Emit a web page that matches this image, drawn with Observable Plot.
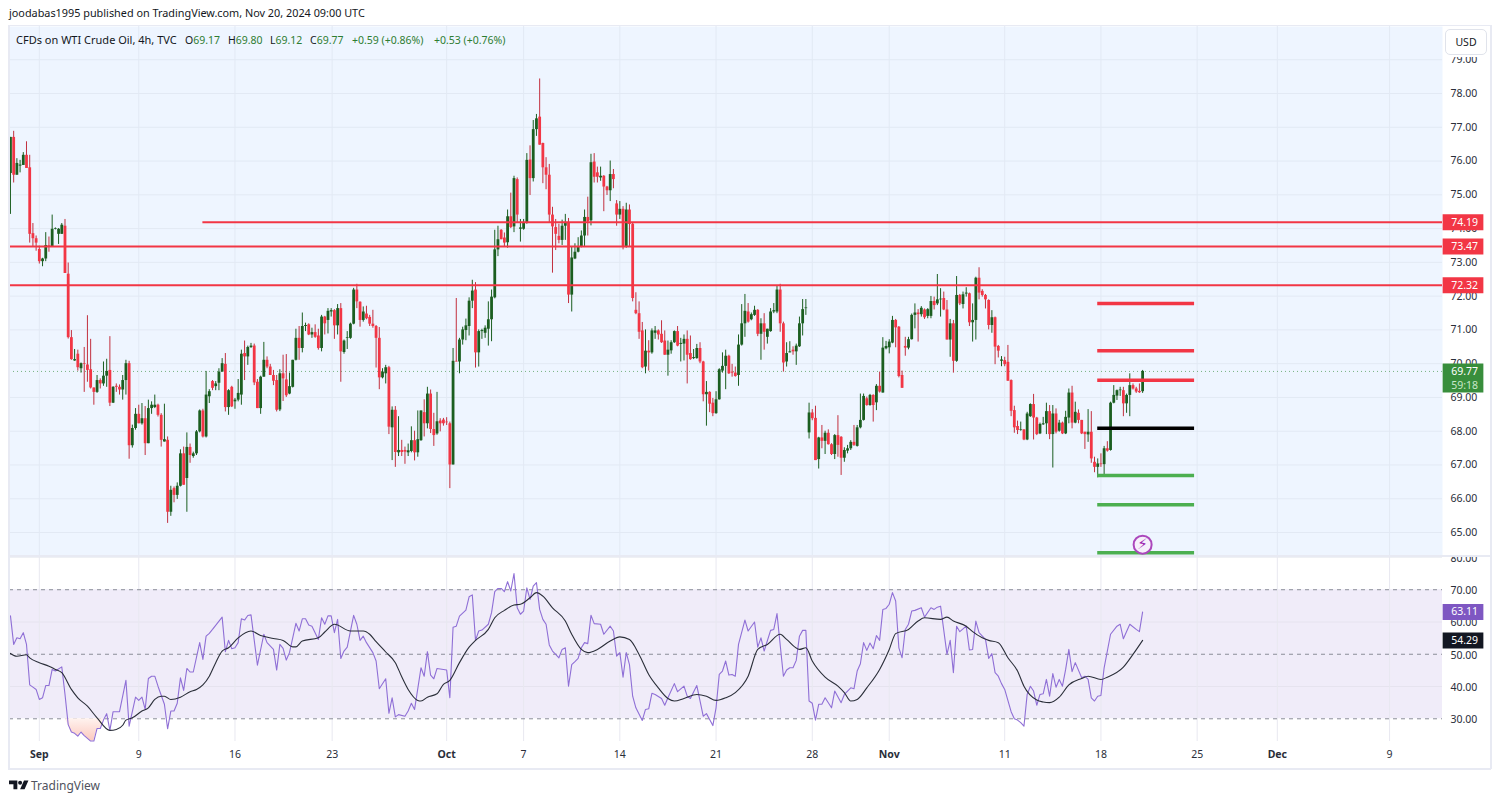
<!DOCTYPE html>
<html>
<head>
<meta charset="utf-8">
<script src="https://cdn.jsdelivr.net/npm/d3@7"></script>
<script src="https://cdn.jsdelivr.net/npm/@observablehq/plot@0.6"></script>
<style>
html,body{margin:0;padding:0;background:#fff;}
#page{position:relative;width:1500px;height:802px;overflow:hidden;font-family:"Noto Sans",sans-serif;color:#131722;}
#page svg.plot,#page>svg{position:absolute;left:0;}
.t{position:absolute;white-space:nowrap;font-size:10.5px;line-height:14px;}
.g{color:#2e7d32;}
.line{position:absolute;background:#e8eaf3;}
</style>
</head>
<body>
<div id="page">
<div class="line" style="left:8px;top:25px;width:1483px;height:1px"></div>
<div class="line" style="left:8px;top:25px;width:2px;height:744px"></div>
<div class="line" style="left:1490px;top:25px;width:2px;height:744px"></div>
<div class="line" style="left:8px;top:768px;width:1483px;height:2px"></div>
<div class="line" style="left:8px;top:555px;width:1483px;height:2px"></div>
<div id="top"></div>
<div id="bottom"></div>
<div class="t" style="left:9px;top:6px;width:370px;font-size:10.85px">joodabas1995 published on TradingView.com, Nov 20, 2024 09:00 UTC</div>
<div class="t" style="left:16px;top:33px;font-size:11px">CFDs on WTI Crude Oil, 4h, TVC</div>
<div class="t" style="left:185px;top:33px">O<span class="g">69.17</span></div>
<div class="t" style="left:228px;top:33px">H<span class="g">69.80</span></div>
<div class="t" style="left:270px;top:33px">L<span class="g">69.12</span></div>
<div class="t" style="left:310px;top:33px">C<span class="g">69.77</span></div>
<div class="t g" style="left:352px;top:33px">+0.59 (+0.86%)</div>
<div class="t g" style="left:434px;top:33px">+0.53 (+0.76%)</div>
<div style="position:absolute;left:1443px;top:26px;width:47px;height:31px;background:#fff;z-index:2"></div>
<div style="position:absolute;left:1445px;top:29px;width:40px;height:24px;background:#fff;border:1px solid #e0e3eb;border-radius:5px;text-align:center;font-size:10.5px;line-height:24px;z-index:3">USD</div>
<svg width="20" height="12" viewBox="0 0 36 20" style="position:absolute;left:9px;top:780px"><path fill="#131722" d="M0 0h15v16H8V7H0zM20 16l7-16h8l-7 16z"/><circle cx="20" cy="4" r="3.6" fill="#131722"/></svg>
<div class="t" style="left:31px;top:778px;font-size:12px;line-height:15px;color:#50535e">TradingView</div>
</div>
<script>
const opens=[75.63,76.7,75.58,75.85,75.87,76.17,75.8,73.85,73.7,73.38,
73.02,73.1,73.5,73.44,73.98,73.83,73.83,74.07,72.65,70.77,
70.08,70.28,69.85,70,69.96,69.82,69.28,69.15,69.5,69.4,
69.63,69.8,68.83,69.33,69.3,69.22,69.5,70,67.57,68.08,
68.5,68.22,68.37,67.63,68.67,68.7,68.77,68.47,67.68,67.73,
65.6,66.3,66.1,66.37,67.33,66.6,67.52,67.25,67.33,67.98,
68.6,67.83,69.02,69.47,69.32,69.42,69.75,69.98,68.7,69.3,
68.87,68.92,69.07,70.3,70.2,70.48,70.52,69.45,68.67,69.6,
70.1,69.9,69.65,69.5,68.63,69.7,69.52,69.1,69.3,70.1,
70.75,70.45,71.1,71.15,70.85,70.92,70.82,70.45,71.38,71.28,
71.53,71.57,71.12,71.63,70.33,70.75,70.75,71.17,72.18,71.82,
71.28,71.47,71.37,71.17,71.1,70.75,69.58,69.7,69.88,68.1,
68.62,67.36,67.43,67.43,67.36,67.4,67.72,67.36,67.72,68.55,
68.22,69.1,68.05,67.92,68.3,68.33,68.27,68.22,67,70.07,
70.05,70.7,70.98,71.1,71.85,72.18,70.32,70.95,70.9,71.02,
71.3,71.95,73.37,73.95,73.72,73.58,74.35,74.05,75.45,73.98,
73.98,74.15,76.03,75.48,76.93,77.3,76.52,75.8,75.58,74.4,
74.03,73.77,73.65,74.07,74.18,72.03,73.1,73.3,73.45,73.78,
74.33,74.23,75.97,75.65,75.5,75.55,75.23,75.12,75.6,74.73,
74.4,74.57,73.47,74.55,74.13,71.58,71.48,70.97,69.9,70.37,
70.32,70.9,70.97,70.87,70.67,70.25,70.38,70.62,70.95,70.57,
70.58,70.72,70.3,70.15,70.15,70.45,70.05,69.08,69.15,68.83,
68.52,68.93,69.78,69.92,70.22,69.75,69.72,69.65,70.55,71.18,
71.53,71.3,71.43,71.58,70.87,71.18,70.78,70.95,71.53,71.53,
72.18,71.18,70.05,70.32,70.4,70.35,70.5,71.18,71.63,
67.95,68.54,68.38,67.16,67.8,67.7,67.94,67.6,67.31,67.87,
67.82,67.2,67.41,67.48,67.67,67.55,68.1,68.32,68.96,68.76,
69.06,68.84,69.33,69.13,70.44,70.47,70.61,71.28,71.08,69.65,
70.51,70.46,70.71,71.43,71.5,71.45,71.59,71.4,71.4,71.84,
71.77,71.89,71.93,71.59,70.7,71.18,70.07,72.02,71.75,72.06,
72.07,71.21,71.28,72.53,72.14,72.02,71.87,71.13,71.36,70.51,
70.07,70.09,70.04,69.5,68.61,68.14,68.02,68.04,67.74,68.43,
68.79,68.39,67.92,68.19,68.22,68.58,67.9,68.51,68,68.24,
67.92,68.39,69.13,68.24,68.53,68.32,67.97,67.89,67.97,67.08,
66.93,67.03,67.01,67.48,67.43,68.83,69.04,69.2,69.2,68.81,
69.06,69.35,69.25,69.18,69.17];
const highs=[76.7,76.88,76.07,76.02,76.25,76.57,76.17,74.15,73.78,73.48,
73.12,73.88,73.75,74.4,74.02,74,74.15,74.27,72.98,70.98,
70.42,70.4,70.02,70.48,71.42,70.72,69.28,69.65,69.55,70.05,
70.13,70.8,69.32,69.4,69.37,69.65,70.1,70.07,68.18,68.67,
68.77,68.82,68.73,68.92,68.87,69.07,68.8,68.52,68.8,67.83,
66.37,66.35,66.47,67.45,67.53,67.95,67.62,67.38,68.02,68.63,
68.65,69.77,69.23,69.5,69.47,69.85,70.15,70.3,69.23,69.33,
68.97,69.53,70.4,70.67,70.52,70.6,70.58,69.53,69.63,70.63,
70.2,69.98,69.8,69.65,69.82,70.25,70.27,69.72,70.1,71.02,
71.1,71.5,71.2,71.18,71.05,71.15,71.02,71.43,71.4,71.63,
71.63,71.6,71.75,71.78,70.7,70.95,71.2,72.23,72.35,71.83,
71.68,71.7,71.43,71.58,71.13,71.07,69.85,69.95,69.92,68.72,
68.73,68.43,67.73,67.53,67.62,68.13,68,68.6,68.6,68.93,
69.3,69.22,68.53,69.15,68.37,68.38,68.4,68.27,70.45,71.93,
70.75,71.08,71.32,71.95,72.47,72.4,71,71.02,71.12,71.83,
72.18,73.95,74.07,73.97,73.87,74.55,75.05,75.55,75.5,74.27,
74.27,76.22,76.45,77.2,77.38,78.43,76.53,76.1,75.9,74.63,
74.27,74.13,74.25,74.42,74.3,73.47,73.55,73.73,73.93,74.55,
74.93,76.2,76.22,75.82,75.82,75.57,75.25,76,75.75,74.83,
74.8,74.65,74.75,74.7,74.17,72.1,71.83,71.22,71,70.68,
71.03,71.1,71,71.27,70.97,70.67,70.68,70.97,71.1,70.75,
70.85,70.97,70.82,70.42,70.57,70.62,70.07,69.47,69.17,68.97,
69.17,69.85,70.32,70.4,70.25,69.98,69.9,70.85,71.75,72.05,
71.78,71.5,71.7,71.6,71.33,71.48,71.02,71.63,71.78,72.3,
72.35,71.23,70.62,70.65,70.5,70.58,71.38,71.9,71.9,
68.83,68.64,68.74,67.82,68.17,68,68.04,67.63,67.9,68.46,
67.84,67.51,67.58,67.72,68.17,68.17,69.1,69.1,69.01,69.09,
69.08,69.38,69.75,70.77,70.66,70.71,71.4,71.31,71.1,69.78,
70.78,70.78,71.47,71.77,71.6,71.69,71.62,71.63,71.99,71.97,
72.64,72.22,72.12,71.87,71.31,71.28,72.58,72.05,72.12,72.25,
72.09,71.77,72.56,72.84,72.19,72.05,71.89,71.57,71.38,70.54,
70.21,70.19,70.54,69.52,68.74,68.3,68.27,68.04,68.56,68.81,
69.09,68.41,68.24,68.41,68.83,68.76,68.76,68.66,68.32,68.27,
68.59,69.25,69.33,68.86,68.63,68.32,67.97,68.64,68.58,67.23,
67.18,67.33,67.55,67.69,68.86,69.35,69.22,69.3,69.3,69.1,
69.7,69.4,69.3,69.4,69.8];
const lows=[74.42,75.35,75.58,75.65,75.87,75.78,73.57,73.45,73.33,72.95,
72.87,73.02,73.3,73.44,73.96,73.53,73.83,72.67,70.73,70.1,
70.07,69.78,69.72,69.15,69.45,69.25,68.77,69.12,69.25,69.33,
69.3,68.73,68.82,69.15,69.07,68.92,69.07,67.17,67.5,68.03,
68.22,68.18,67.28,67.63,68.5,68.67,68.42,67.53,67.68,65.27,
65.48,65.88,65.98,66.35,66.4,65.6,67.05,67.2,67.28,67.95,
67.8,67.8,68.82,69.2,69.2,69.2,69.75,68.57,68.47,68.7,
68.65,68.87,68.77,69.5,69.95,70.45,69.35,68.67,68.5,69.6,
69.85,69.65,69.35,68.57,68.58,68.88,69,69.08,69.28,70.08,
70.1,70.32,70.95,70.83,70.75,70.75,70.4,70.35,70.85,70.88,
71.38,70.72,70.85,69.45,70.28,70.42,70.72,71.15,71.63,71.08,
71.23,71.3,71.1,71.05,69.87,69.23,69.55,69.4,67.9,67.13,
66.93,67.25,67.25,67.02,67.25,67.36,67.12,67.23,67.7,67.83,
68.07,67.93,67.55,67.88,67.98,68.15,68.17,66.3,67,70.05,
69.7,70.55,70.68,70.82,71.63,69.87,69.9,70.72,70.75,70.52,
70.65,71.92,73.17,73.67,73.45,73.42,74,73.88,74.15,73.6,
73.95,74.13,74.98,75.38,76.73,76.47,75.33,75.15,74.17,72.68,
73.35,73.55,73.5,73.65,71.78,71.53,73.08,73.28,73.43,73.47,
73.78,74.08,75.35,75.35,75.4,74.5,74.98,74.8,75.18,74.07,
74.27,73.37,73.42,73.47,71.83,71.45,70.72,69.85,69.7,69.78,
70.28,70.72,70.7,70.6,70.25,69.63,70.28,70.6,70.5,70.05,
70.08,69.4,70.1,70.12,70.13,70,68.87,68.15,68.55,68.43,
68.5,68.92,69.72,69.23,69.68,69.6,69.6,69.33,70.52,70.78,
71.2,71.27,71.4,70.8,70.1,70.4,70.58,70.93,71.48,71.48,
70.93,69.75,69.9,70.32,70.25,69.95,70.48,70.82,71.43,
67.77,68.31,67.13,66.88,67.48,67.31,67.59,67.28,67.16,67.23,
66.69,67.08,67.33,67.43,67.55,67.53,68.07,68.3,68.74,68.74,
68.27,68.61,69.13,69.13,70.41,70.29,70.59,70.47,69.58,69.27,
70.22,70.41,70.7,71.03,70.64,71.38,71.31,71.33,71.33,71.59,
71.72,71.38,71.57,70.7,70.19,69.72,70.04,71.72,71.62,71.97,
71.1,70.64,70.7,71.89,71.97,71.62,71,70.9,69.97,70.17,
69.91,69.91,69.48,68.43,67.94,67.9,68,67.72,67.72,68.41,
67.74,67.87,67.9,68.17,67.9,67.75,66.91,67.92,67.97,67.9,
67.9,68.22,68.07,68.22,68.22,67.9,67.46,67.67,67.05,66.77,
66.62,66.93,66.66,67.38,67.41,68.81,68.91,69.03,68.43,68.53,
68.43,69.22,69.12,69.12,69.12];
const closes=[76.7,75.58,75.93,75.88,76.17,75.78,73.83,73.7,73.57,73.02,
73.1,73.5,73.48,73.98,74,73.98,74.1,72.67,70.77,70.12,
70.12,69.88,70,69.98,69.8,69.28,69.15,69.5,69.4,69.63,
69.77,68.83,69.3,69.3,69.22,69.5,70,67.57,68.08,68.5,
68.22,68.37,67.63,68.67,68.77,68.77,68.47,67.73,67.75,65.6,
66.25,66.1,66.37,67.33,66.4,67.52,67.28,67.33,67.98,68.6,
67.83,69.07,69.17,69.27,69.4,69.75,70,68.7,69.2,68.72,
68.92,69.12,70.28,70.2,70.48,70.52,69.43,68.67,69.6,70.1,
69.9,69.65,69.48,68.62,69.7,69.55,69.05,69.32,70.1,70.75,
70.45,71.1,71.13,70.85,70.92,70.78,70.45,71.38,71.18,71.55,
71.57,71.12,71.63,70.35,70.67,70.77,71.17,72.18,71.83,71.28,
71.53,71.33,71.17,71.1,70.75,69.58,69.75,69.88,68.12,68.62,
67.37,67.43,67.37,67.38,67.42,67.72,67.36,67.75,68.6,68.22,
69.1,68.05,67.87,68.28,68.22,68.22,68.25,67,70.07,70.05,
70.7,71,71.12,71.85,72.15,70.32,70.95,70.98,71.05,71.3,
71.97,73.37,73.67,73.67,73.57,74.35,74.03,75.48,74.4,74.02,
74.15,76.02,75.48,76.93,77.25,76.47,75.8,75.58,74.4,74.05,
73.83,73.65,74.07,74.18,72.03,73.13,73.3,73.47,73.78,74.33,
74.2,75.95,75.52,75.52,75.55,75.23,75.12,75.6,75.45,74.4,
74.57,73.47,74.55,74.12,71.93,71.48,70.93,69.88,70.37,70.32,
70.97,70.97,70.85,70.62,70.25,70.4,70.62,70.95,70.52,70.6,
70.72,70.25,70.12,70.18,70.45,70.05,69.08,69.15,68.8,68.52,
68.93,69.82,69.92,70.22,69.7,69.72,69.62,70.55,71.18,71.55,
71.23,71.45,71.58,70.87,71.18,70.93,71.02,71.53,71.57,72.18,
71.18,70.02,70.3,70.35,70.35,70.52,71.18,71.6,71.65,
68.54,68.37,67.13,67.8,67.7,67.94,67.6,67.31,67.87,67.58,
67.2,67.43,67.48,67.67,67.58,68.1,68.32,69.03,68.76,69.06,
68.76,69.33,69.16,70.46,70.51,70.64,71.28,71.06,69.62,69.27,
70.46,70.71,71.43,71.5,71.45,71.64,71.36,71.6,71.84,71.72,
71.89,71.91,71.59,70.7,71.18,70.07,72.02,71.77,72.04,72.09,
71.21,71.28,72.53,72.09,72.02,71.89,71.13,71.36,70.49,70.37,
70.11,69.97,69.48,68.59,68.1,68.02,68.04,67.74,68.51,68.79,
68.39,67.9,68.2,68.22,68.58,67.9,68.51,67.97,68.24,67.92,
68.41,69.13,68.24,68.56,68.32,67.92,67.9,67.97,67.18,66.93,
67.03,67.01,67.48,67.41,68.83,69.06,69.2,69.22,68.81,69.06,
69.35,69.25,69.16,69.14,69.77];

const rsiBar=[0,1,2,3,4,5,6,7,8,9,10,11,12,13,14,16,17,18,19,20,21,22,23,25,26,27,28,29,30,31,32,34,36,37,39,40,41,42,43,44,45,46,48,49,50,51,52,53,54,55,56,57,59,60,61,62,63,66,67,68,69,70,71,72,73,74,75,77,79,80,82,83,84,85,86,87,89,90,91,92,93,94,96,97,98,99,100,101,102,103,104,105,107,108,109,110,111,113,114,115,117,118,119,120,121,
123,124,125,126,128,129,130,131,132,133,136,137,138,139,140,142,143,144,145,146,147,149,150,151,152,153,154,155,156,157,158,159,160,161,162,163,164,165,166,167,168,169,170,171,172,173,174,175,176,177,178,179,180,181,182,184,185,187,188,189,190,191,192,193,194,195,197,198,199,200,201,203,204,205,207,208,210,211,212,214,216,217,218,219,220,221,222,223,224,225,226,227,229,230,232,233,234,235,237,238,239,241,242,243,244,245,246,
247,248,249,250,251,252,253,254,256,257,259,260,262,263,264,265,266,267,268,269,270,271,272,273,274,275,276,277,278,279,280,281,282,284,285,287,288,289,290,292,293,294,295,296,298,299,300,301,302,304,305,306,307,308,309,310,312,313,314,315,316,317,318,319,320,321,322,323,324,325,326,327,328,329,330,331,332,334,335,336,337,338,339,340,341,343,345,346,347,349,351,352,353];
const rsiValue=[61.9,53.05,55.1,54.8,56.7,53.05,40.5,39.8,39.1,36,36.5,40.3,40.3,45.3,44.8,46.1,37.6,28.2,25.9,25.5,24.6,25.9,24.8,23.1,23.1,27,27,29.6,31.6,26.4,32.2,32.2,41.9,27.7,36.7,35.7,36.7,32.9,42.5,43.2,43.2,40.1,34.5,26.9,32.4,32.4,34.8,42.7,38.8,45.6,44.5,44.5,53.6,48.4,55.6,56.5,57.7,61.5,50.8,54.3,51.7,52,53.6,61,60.6,62,62.2,46.6,56.2,53.6,51.5,45.1,53.05,51.8,48.2,50.5,59.6,57.2,61,61,59.05,58.7,54.6,61.3,59.3,61.9,61.9,56.7,60.8,48.7,51,52.2,62.05,59.3,54.3,55.6,53.6,50.5,47.9,39.3,42.4,31.7,36.5,30.6,31.3,
30.8,32.4,34.8,32.9,45.8,43.2,50.8,43.5,42.4,45.6,45.1,36.5,58.4,58.7,61.8,63.7,67.8,68.4,54.3,57.2,57.5,59.3,62.9,69.4,70.4,70.4,69.4,72.5,69.6,75,64.4,62.4,63.4,70.6,67,71.1,72.2,63.9,60.8,59.3,52.9,51,49.95,48.9,51.5,52,40.1,46.8,47.7,48.7,52,53.6,53.3,62.1,59.5,59.3,56.2,58.7,57.2,49.4,50.5,42.9,50.5,46.8,37,33.4,29.5,32.9,33.1,37.9,37.55,36.3,34.2,36.5,40.9,38.4,40.1,37,36.3,40.3,30.8,31.6,29.8,27.9,33.4,43.75,44.8,47.9,43.55,43.75,43.2,53.05,60.6,57.2,60,52.2,55.1,51,57.4,57.7,62.6,43.2,45.1,45.8,45.8,48.1,55.6,
57.4,57.4,35.5,34.8,29.6,34.5,34.5,36.5,33.4,38.6,35,37.55,39.6,39.3,44.8,47.06,53.6,51.2,53.5,51.7,55.8,54.3,63.9,64.2,65.5,69.1,66.5,52,48.9,57.7,59.3,63.4,63.6,64.4,61.5,64.4,63.9,64.6,64.9,49.95,54.3,44.3,58.7,57,58.7,51.3,51.5,60.3,56.7,54.6,48.7,50.2,44.3,43.2,40.9,39.1,32.2,30,29.6,28.8,27.7,37.55,40.1,38.6,34.2,37.55,37.75,42.2,37,44,39.8,42.2,40.1,45.3,51.5,44.6,47.4,42.7,43.2,42.2,36.5,35.5,37,37.2,45.8,56.2,58.7,59.3,54.8,59.3,57.7,57,63.11];

const maBar=[0,2,5,6,9,12,14,16,19,21,24,27,31,33,35,36,38,41,43,45,47,48,50,53,56,58,60,62,64,66,68,71,75,78,82,85,88,89,91,96,98,101,106,110,112,114,117,120,122,
124,127,128,130,133,135,137,140,143,145,149,151,154,157,159,162,164,166,169,173,175,178,180,183,187,190,193,196,199,202,205,207,210,214,217,220,223,226,230,233,236,240,242,246,
248,250,254,258,260,262,264,267,271,274,276,280,283,285,290,292,294,298,300,303,305,308,311,314,316,320,322,324,327,330,334,336,340,342,347,350,353];
const maValue=[50.26,49.4,49.85,48.9,47.4,46.3,45.3,44.3,39.1,36.5,33.9,30.3,26.4,26.7,28,29.6,30.3,32.4,33.4,36,37,37,36,36.7,38.4,39.1,40.5,43.2,47.4,51,52,55.1,57.2,55.8,54.9,54.3,52.3,52.3,54.1,55.1,56.9,59.3,57.2,57.2,56.2,53.9,50.7,47.4,43,
39.1,35.7,35.5,36.7,37.75,40.65,41.9,47.4,52.2,54.3,57.7,61.3,63.6,65.25,65.5,67.5,69.1,68,64.4,60.3,56.2,51.5,50.5,51.5,54.1,55.4,54.6,49.95,43.75,39.6,36.3,35.5,36.3,37.55,37,35.7,36.5,38.1,43.2,51.5,53.05,56.2,54.6,51.5,
52,47.9,42.9,40.1,38.1,35.5,36,39.6,45.3,51.5,56.4,57.7,60.3,61.3,60.8,61.5,60.3,58.7,57,55.1,54.3,53.6,48.9,44.8,40.1,35.8,35.2,35,36.7,40.5,42.5,43.2,42.2,42.9,46,49.95,54.29];

const tickBars=[9,40,70,100.3,136,160,190,220,250,274,310,340,370,395,430];
const tickLabels=["Sep","9","16","23","Oct","7","14","21","28","Nov","11","18","25","Dec","9"];
const monthLabels=["Sep","Oct","Nov","Dec"];
const priceTicks=[65,66,67,68,69,70,71,72,73,74,75,76,77,78,79];
const rsiTicks=[30,40,50,60,70,80];
const rsiGrid=[40,60];
const rsiBands=[30,50,70];

const resistance=[{p:74.19,from:60},{p:73.47,from:-0.3},{p:72.32,from:-0.3}];
const shortLevels=[
  {p:71.78,c:"#f23645"},{p:70.38,c:"#f23645"},{p:69.51,c:"#f23645"},
  {p:68.09,c:"#000000"},
  {p:66.69,c:"#4caf50"},{p:65.82,c:"#4caf50"},{p:64.4,c:"#4caf50"}
];
const shortFrom=339, shortTo=369.2;
const lastPrice=69.77, countdown="59:18";
const lastRsi=63.11, lastMa=54.29;
const xDomain=[-0.3,446.5];
const tagFrom=446.7, tagTo=459.4, tagText=449.2;
const signalBar=353, signalPrice=64.64;

const RED="#f23645",WICKRED="#c2303f",GREEN="#1b5e20",AXIS="#2a2e39",FONT="Noto Sans";
const bars=opens.map((o,i)=>({i,o,h:highs[i],l:lows[i],c:closes[i]}));
const up=bars.filter(d=>d.c>=d.o), down=bars.filter(d=>d.c<d.o);
const fix=v=>v.toFixed(2);
const rsi=rsiBar.map((i,k)=>({i,v:rsiValue[k]}));
const ma=maBar.map((i,k)=>({i,v:maValue[k]}));
const oversold=rsi.filter(d=>d.i>=17&&d.i<=29).map(d=>({i:d.i,v:Math.min(d.v,30)}));

const topPlot=Plot.plot({
  width:1500,height:556,marginLeft:9,marginRight:58,marginTop:26,marginBottom:0,
  style:{background:"transparent",fontFamily:FONT,fontSize:"10.5px"},
  x:{domain:xDomain,axis:null},
  y:{domain:[64.29,79.984],axis:null},
  marks:[
    Plot.frame({fill:"#eef5ff",stroke:null}),
    Plot.ruleY(priceTicks,{stroke:"#e2e9f4"}),
    Plot.ruleX(tickBars,{stroke:"#e2e9f4"}),
    Plot.axisY(priceTicks,{anchor:"right",tickSize:0,tickPadding:8,label:null,textAnchor:"start",tickFormat:fix,fill:AXIS,fontSize:10.5}),
    Plot.ruleY([lastPrice],{stroke:"#388e3c",strokeDasharray:"1 3",strokeOpacity:.65}),
    Plot.ruleX(up,{x:"i",y1:"l",y2:"h",stroke:GREEN}),
    Plot.ruleX(down,{x:"i",y1:"l",y2:"h",stroke:WICKRED}),
    Plot.ruleX(up,{x:"i",y1:"o",y2:"c",stroke:GREEN,strokeWidth:2.8}),
    Plot.ruleX(down,{x:"i",y1:"o",y2:"c",stroke:RED,strokeWidth:2.8}),
    Plot.ruleY(resistance,{y:"p",x1:"from",x2:xDomain[1],stroke:RED,strokeWidth:2}),
    Plot.ruleY(shortLevels,{y:"p",x1:shortFrom,x2:shortTo,stroke:"c",strokeWidth:3.5}),
    Plot.dot([{x:signalBar,y:signalPrice}],{x:"x",y:"y",r:9,stroke:"#ab47bc",strokeWidth:2,fill:"#f6f0fb"}),
    Plot.text(["⚡"],{x:signalBar,y:signalPrice,fill:"#9c27b0",fontSize:15,fontFamily:"DejaVu Sans"}),
    Plot.ruleY(resistance,{y:"p",x1:tagFrom,x2:tagTo,stroke:RED,strokeWidth:16}),
    Plot.text(resistance,{y:"p",x:tagText,text:d=>fix(d.p),fill:"#fff",textAnchor:"start",fontSize:10.5}),
    Plot.ruleY([lastPrice],{x1:tagFrom,x2:tagTo,stroke:"#388e3c",strokeWidth:29,dy:6.5}),
    Plot.text([lastPrice],{y:d=>d,x:tagText,text:fix,fill:"#fff",textAnchor:"start",fontSize:10.5}),
    Plot.text([countdown],{y:lastPrice,x:tagText,dy:14,fill:"#c8e6c9",textAnchor:"start",fontSize:10.5})
  ]
});
topPlot.style.top="0px";
document.getElementById("top").appendChild(topPlot);

const days=tickBars.filter((_,k)=>!monthLabels.includes(tickLabels[k]));
const months=tickBars.filter((_,k)=>monthLabels.includes(tickLabels[k]));
const labelOf=b=>tickLabels[tickBars.indexOf(b)];
const oversoldGradient=()=>{
  const ns="http://www.w3.org/2000/svg";
  const defs=document.createElementNS(ns,"defs");
  const g=document.createElementNS(ns,"linearGradient");
  g.setAttribute("id","osGrad");g.setAttribute("x1","0");g.setAttribute("y1","0");g.setAttribute("x2","0");g.setAttribute("y2","1");
  [["0","#fff3ef"],["1","#fcc9bf"]].forEach(([o,c])=>{
    const s=document.createElementNS(ns,"stop");s.setAttribute("offset",o);s.setAttribute("stop-color",c);g.appendChild(s);
  });
  defs.appendChild(g);
  return defs;
};

const bottomPlot=Plot.plot({
  width:1500,height:211,marginLeft:9,marginRight:58,marginTop:0,marginBottom:26,
  style:{background:"transparent",fontFamily:FONT,fontSize:"10.5px"},
  x:{domain:xDomain,axis:null},
  y:{domain:[22.96,80.3],axis:null},
  marks:[
    oversoldGradient,
    Plot.rectY([0],{y1:rsiBands[0],y2:rsiBands[2],fill:"#f0ecf9"}),
    Plot.ruleY(rsiGrid,{stroke:"#e6e3ef"}),
    Plot.ruleY([80],{stroke:"#eef0f4"}),
    Plot.ruleX(tickBars,{stroke:"#e8e8f0"}),
    Plot.ruleY(rsiBands,{stroke:"#8a8d98",strokeDasharray:"4 4"}),
    Plot.axisY(rsiTicks,{anchor:"right",tickSize:0,tickPadding:8,label:null,textAnchor:"start",tickFormat:fix,fill:AXIS,fontSize:10.5,dy:1}),
    Plot.axisX(days,{anchor:"bottom",tickSize:0,tickPadding:9,label:null,tickFormat:labelOf,fill:AXIS,fontSize:10.5}),
    Plot.axisX(months,{anchor:"bottom",tickSize:0,tickPadding:9,label:null,tickFormat:labelOf,fill:AXIS,fontSize:10.5,fontWeight:"bold"}),
    Plot.areaY(oversold,{x:"i",y1:30,y2:"v",fill:"url(#osGrad)"}),
    Plot.line(rsi,{x:"i",y:"v",stroke:"#8f6fd6",strokeWidth:1.1,curve:"linear"}),
    Plot.line(ma,{x:"i",y:"v",stroke:"#2a2e39",strokeWidth:1.1,curve:"monotone-x"}),
    Plot.ruleY([lastRsi],{x1:tagFrom,x2:tagTo,stroke:"#7e57c2",strokeWidth:16}),
    Plot.text([lastRsi],{y:d=>d,x:tagText,text:fix,fill:"#fff",textAnchor:"start",fontSize:10.5}),
    Plot.ruleY([lastMa],{x1:tagFrom,x2:tagTo,stroke:"#131722",strokeWidth:16}),
    Plot.text([lastMa],{y:d=>d,x:tagText,text:fix,fill:"#fff",textAnchor:"start",fontSize:10.5})
  ]
});
bottomPlot.style.top="557px";
document.getElementById("bottom").appendChild(bottomPlot);
</script>
</body>
</html>
